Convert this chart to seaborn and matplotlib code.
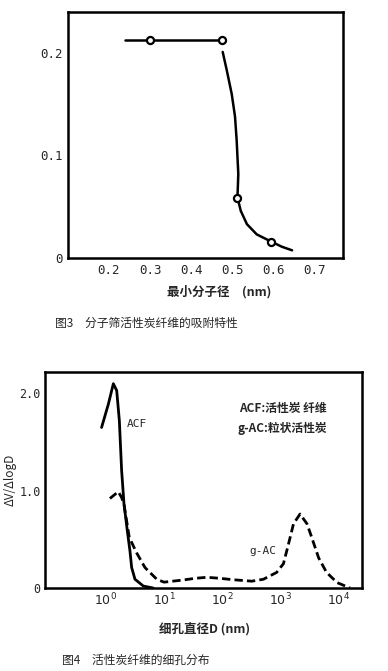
import matplotlib
matplotlib.use('Agg')
import matplotlib.pyplot as plt
import seaborn as sns

# fig 3: adsorption vs minimum molecular diameter
mol_d_flat = [0.239, 0.30, 0.476]
ads_flat = [0.213, 0.213, 0.213]
mol_d_curve = [0.477, 0.487, 0.499, 0.507, 0.511, 0.515, 0.515, 0.513, 0.521,
               0.536, 0.560, 0.595, 0.621, 0.646]
ads_curve = [0.201, 0.183, 0.160, 0.138, 0.115, 0.092, 0.072, 0.059, 0.046,
             0.033, 0.023, 0.016, 0.011, 0.0075]
mol_d_pts = [0.30, 0.476, 0.513, 0.595]
ads_pts = [0.213, 0.213, 0.059, 0.016]

# fig 4: pore size distribution
acf_d = [0.84, 1.10, 1.34, 1.53, 1.70, 1.86, 2.04, 2.33, 2.59, 2.77, 3.16, 4.4, 6.5]
acf_v = [1.65, 1.89, 2.10, 2.03, 1.72, 1.21, 0.87, 0.59, 0.38, 0.21, 0.09, 0.02, 0.0]
gac_d = [1.17, 1.63, 1.86, 2.04, 2.52, 3.38, 4.7, 7.5, 10, 14, 20, 35, 55, 90,
         155, 325, 515, 870, 1140, 1390, 1700, 2200, 2900, 3500, 4600, 6300, 9600, 16000]
gac_v = [0.92, 0.99, 0.93, 0.86, 0.52, 0.36, 0.21, 0.09, 0.06, 0.07, 0.08, 0.10,
         0.11, 0.10, 0.085, 0.07, 0.09, 0.16, 0.25, 0.45, 0.66, 0.76, 0.66, 0.52,
         0.31, 0.16, 0.055, 0.0]

sns.set_theme(style='white')
plt.rcParams['font.family'] = ['Noto Sans CJK SC', 'DejaVu Sans']
mono = ['DejaVu Sans Mono']

fig = plt.figure(figsize=(3.88, 6.71), dpi=100)

# ---- top chart
ax1 = fig.add_axes([0.175, 0.6155, 0.709, 0.3667])
sns.lineplot(x=mol_d_flat, y=ads_flat, ax=ax1, color='black', lw=1.8, sort=False)
sns.lineplot(x=mol_d_curve, y=ads_curve, ax=ax1, color='black', lw=1.8, sort=False)
sns.scatterplot(x=mol_d_pts, y=ads_pts, ax=ax1, s=26, marker='o',
                facecolor='white', edgecolor='black', linewidth=1.6, zorder=5)
ax1.set_xlim(0.1, 0.77)
ax1.set_ylim(0, 0.24)
ax1.set_xticks([0.2, 0.3, 0.4, 0.5, 0.6, 0.7])
ax1.set_xticklabels(['0.2', '0.3', '0.4', '0.5', '0.6', '0.7'], family=mono, fontsize=9)
ax1.set_yticks([0, 0.1, 0.2])
ax1.set_yticklabels(['0', '0.1', '0.2'], family=mono, fontsize=9)
ax1.tick_params(direction='in', length=3, width=1.2, color='black', pad=4)
for s in ax1.spines.values():
    s.set_color('black')
    s.set_linewidth(1.8)
ax1.set_xlabel('')
ax1.set_ylabel('')
fig.text(0.565, 1 - 292 / 671, '最小分子径　(nm)', ha='center', va='center',
         fontsize=9, fontweight='bold')
fig.text(0.142, 1 - 323 / 671, '图3　分子筛活性炭纤维的吸附特性', ha='left', va='center',
         fontsize=8.5)

# ---- bottom chart
ax2 = fig.add_axes([0.116, 0.1237, 0.817, 0.3219])
ax2.set_xscale('log')
sns.lineplot(x=acf_d, y=acf_v, ax=ax2, color='black', lw=2.0, sort=False)
sns.lineplot(x=gac_d, y=gac_v, ax=ax2, color='black', lw=2.0, sort=False,
             linestyle=(0, (3, 1.5)))
ax2.set_xlim(10 ** -1.05, 10 ** 4.41)
ax2.set_ylim(0, 2.22)
ax2.set_xticks([1, 10, 100, 1000, 10000])
ax2.set_xticklabels(['$10^{0}$', '$10^{1}$', '$10^{2}$', '$10^{3}$', '$10^{4}$'], fontsize=9)
ax2.minorticks_off()
ax2.set_yticks([0, 0.5, 1.0, 1.5, 2.0])
ax2.set_yticklabels(['0', '', '1.0', '', '2.0'], family=mono, fontsize=8.5)
ax2.tick_params(direction='in', length=3, width=1.2, color='black', pad=3)
for s in ax2.spines.values():
    s.set_color('black')
    s.set_linewidth(1.8)
ax2.set_xlabel('')
ax2.set_ylabel('')
fig.text(10 / 388, 1 - 480 / 671, 'ΔV/ΔlogD', rotation=90, ha='center', va='center',
         fontsize=8.5)
ax2.text(2.3, 1.69, 'ACF', fontsize=8, family=mono, va='center')
ax2.text(300, 0.38, 'g-AC', fontsize=8, family=mono, va='center')
ax2.text(0.89, 0.833, 'ACF:活性炭 纤维', transform=ax2.transAxes, ha='right',
         va='center', fontsize=8.5, fontweight='bold')
ax2.text(0.89, 0.74, 'g-AC:粒状活性炭', transform=ax2.transAxes, ha='right',
         va='center', fontsize=8.5, fontweight='bold')
fig.text(0.528, 1 - 630 / 671, '细孔直径D (nm)', ha='center', va='center',
         fontsize=9, fontweight='bold')
fig.text(0.16, 1 - 660 / 671, '图4　活性炭纤维的细孔分布', ha='left', va='center',
         fontsize=8.5)

fig.savefig('out.png', dpi=100)
